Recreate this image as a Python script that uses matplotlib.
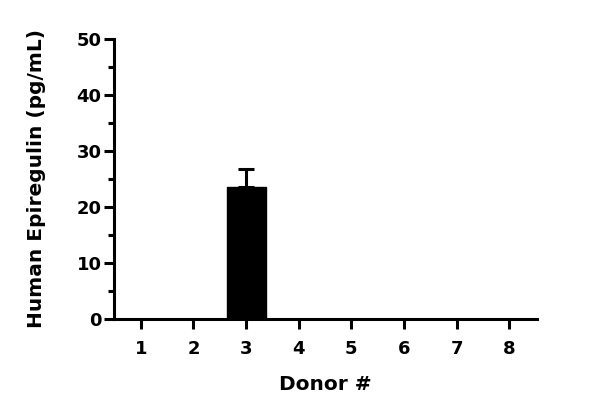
import matplotlib
matplotlib.use("Agg")
import matplotlib.pyplot as plt
from matplotlib.ticker import MultipleLocator

donors = [1, 2, 3, 4, 5, 6, 7, 8]
values = [0, 0, 23.6, 0, 0, 0, 0, 0]
errors = [0, 0, 3.2, 0, 0, 0, 0, 0]
xlabel = "Donor #"
ylabel = "Human Epiregulin (pg/mL)"

plt.rcParams['font.family'] = ['DejaVu Sans']
plt.rcParams['font.weight'] = 'bold'

fig = plt.figure(figsize=(6, 4.13), dpi=100)
ax = fig.add_axes([0.19, 0.2276, 0.705, 0.678])

ax.bar(donors, values, width=0.74, color='black', edgecolor='black', zorder=2)
for d, v, e in zip(donors, values, errors):
    if e > 0:
        ax.errorbar([d], [v], yerr=[[0], [e]], fmt='none', ecolor='black',
                    elinewidth=2.2, capsize=6, capthick=2.2, zorder=3)

ax.set_xlim(0.49, 8.53)
ax.set_ylim(0, 50)
ax.set_xticks(donors)
ax.set_yticks([0, 10, 20, 30, 40, 50])
ax.yaxis.set_minor_locator(MultipleLocator(5))

for s in ['top', 'right']:
    ax.spines[s].set_visible(False)
for s in ['left', 'bottom']:
    ax.spines[s].set_linewidth(2.2)

ax.tick_params(axis='both', which='major', length=7, width=2.2, labelsize=13, pad=2)
ax.tick_params(axis='y', which='minor', length=4, width=2.2)
ax.tick_params(axis='x', which='major', pad=8)

ax.set_xlabel(xlabel, fontsize=14.5, fontweight='bold', labelpad=12)
ax.set_ylabel(ylabel, fontsize=14.5, fontweight='bold', labelpad=22)

fig.savefig("out.png", dpi=100)
